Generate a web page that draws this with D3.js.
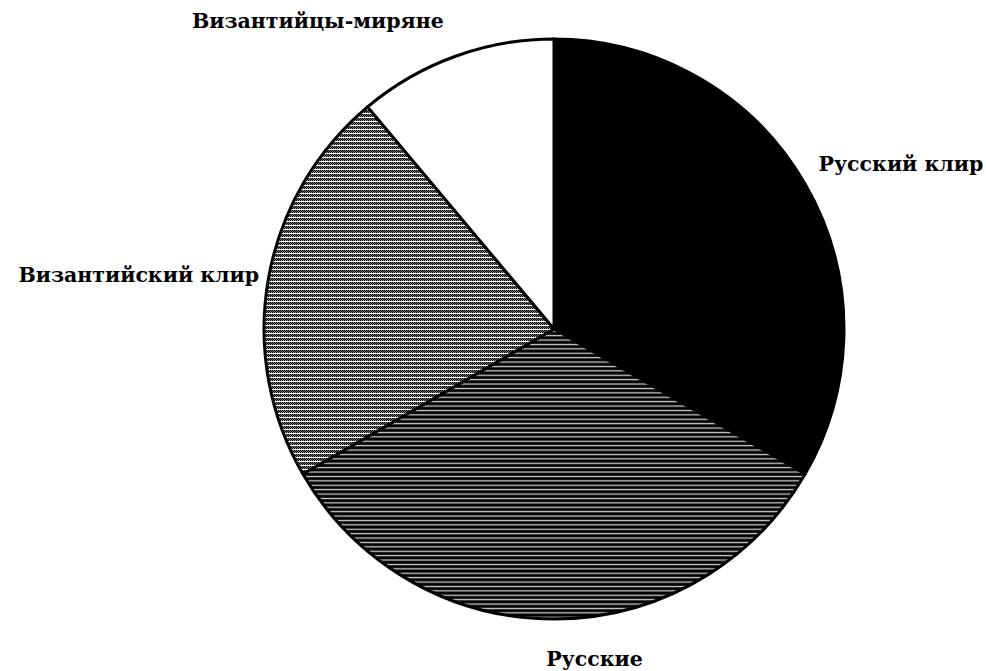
<!DOCTYPE html>
<html>
<head>
<meta charset="utf-8">
<script src="https://cdn.jsdelivr.net/npm/d3@7"></script>
<style>
  body { margin: 0; background: #fff; }
  text { font-family: "DejaVu Serif", "Liberation Serif", serif; }
</style>
</head>
<body>
<div id="viz"></div>
<script>
// data: shares of the groups (3:3:2:1)
var categories = ["Русский клир", "Русские", "Византийский клир", "Византийцы-миряне"];
var values = [33.3, 33.3, 22.2, 11.1];
var fills = ["#000", "url(#stripes)", "url(#dots)", "#fff"];

var width = 986, height = 671;
var cx = 554, cy = 329, radius = 290;

var svg = d3.select("#viz")
  .append("svg")
  .attr("width", width)
  .attr("height", height);

var defs = svg.append("defs");

// horizontal stripes for "Русские"
var stripes = defs.append("pattern")
  .attr("id", "stripes")
  .attr("patternUnits", "userSpaceOnUse")
  .attr("width", 8)
  .attr("height", 4.4);
stripes.append("rect").attr("width", 8).attr("height", 4.4).attr("fill", "#000");
stripes.append("rect").attr("y", 1.6).attr("width", 8).attr("height", 1.3).attr("fill", "#cfcfcf");

// fine dot screen for "Византийский клир"
var dots = defs.append("pattern")
  .attr("id", "dots")
  .attr("patternUnits", "userSpaceOnUse")
  .attr("width", 2)
  .attr("height", 4);
dots.append("rect").attr("width", 2).attr("height", 4).attr("fill", "#fff");
dots.append("rect").attr("x", 0).attr("y", 1).attr("width", 1).attr("height", 1).attr("fill", "#000");
dots.append("rect").attr("x", 1).attr("y", 2).attr("width", 1).attr("height", 1).attr("fill", "#000");
dots.append("rect").attr("x", 0).attr("y", 3).attr("width", 1).attr("height", 1).attr("fill", "#000");
dots.append("rect").attr("x", 0).attr("y", 2).attr("width", 1).attr("height", 1).attr("fill", "#666");
dots.append("rect").attr("x", 1).attr("y", 1).attr("width", 1).attr("height", 1).attr("fill", "#777");
dots.append("rect").attr("x", 1).attr("y", 3).attr("width", 1).attr("height", 1).attr("fill", "#999");

var pie = d3.pie().sort(null).value(function(d) { return d; });
var arcs = pie(values);

var arc = d3.arc().innerRadius(0).outerRadius(radius);

var g = svg.append("g")
  .attr("transform", "translate(" + cx + "," + cy + ")");

g.selectAll("path.slice")
  .data(arcs)
  .enter()
  .append("path")
  .attr("class", "slice")
  .attr("d", arc)
  .attr("fill", function(d, i) { return fills[i]; })
  .attr("stroke", "#000")
  .attr("stroke-width", 3)
  .attr("stroke-linejoin", "round");

// label placement: angle (deg, clockwise from top), distance, anchor
var labelPos = [
  {a: 58, r: 312, anchor: "start"},
  {a: 173, r: 332, anchor: "middle"},
  {a: 280.5, r: 300, anchor: "end"},
  {a: 322.5, r: 388, anchor: "middle"}
];

g.selectAll("text.label")
  .data(arcs)
  .enter()
  .append("text")
  .attr("class", "label")
  .attr("x", function(d, i) { return labelPos[i].r * Math.sin(labelPos[i].a * Math.PI / 180); })
  .attr("y", function(d, i) { return -labelPos[i].r * Math.cos(labelPos[i].a * Math.PI / 180); })
  .attr("dy", "0.35em")
  .attr("text-anchor", function(d, i) { return labelPos[i].anchor; })
  .style("font-size", "20.5px")
  .style("font-weight", "bold")
  .text(function(d, i) { return categories[i]; });
</script>
</body>
</html>
